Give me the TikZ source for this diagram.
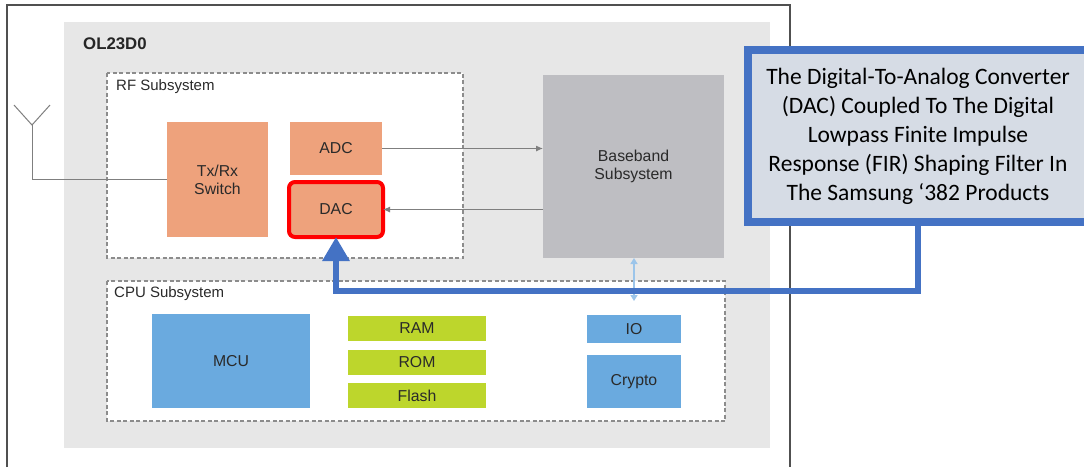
\documentclass[tikz,border=0pt]{standalone}
\usepackage{fontspec}
\setmainfont{Liberation Sans}
\newfontfamily\calloutfont{Carlito}
\usetikzlibrary{arrows.meta, positioning}

\definecolor{framegray}{HTML}{505050}
\definecolor{chipgray}{HTML}{E7E7E7}
\definecolor{dashgray}{HTML}{8C8C8C}
\definecolor{wiregray}{HTML}{7F7F7F}
\definecolor{textgray}{HTML}{2A2A2A}
\definecolor{rforange}{HTML}{EEA27C}
\definecolor{bbgray}{HTML}{BEBEC2}
\definecolor{cpublue}{HTML}{6AAADF}
\definecolor{memgreen}{HTML}{BDD62C}
\definecolor{linkblue}{HTML}{9CC5EA}
\definecolor{callblue}{HTML}{4472C4}
\definecolor{callfill}{HTML}{D6DCE5}

\begin{document}
\begin{tikzpicture}[
  x=1pt, y=-1pt,
  block/.style={inner sep=0pt, outer sep=0pt, align=center, text=textgray,
    font=\fontsize{15.8}{18}\selectfont},
  rfbox/.style={block, fill=rforange},
  cpubox/.style={block, fill=cpublue},
  membox/.style={block, fill=memgreen, minimum width=138pt, minimum height=25pt},
  subsys/.style={draw=dashgray, line width=1.2pt, dash pattern=on 4pt off 2.5pt, fill=white},
  label/.style={inner sep=0pt, anchor=west, text=textgray, font=\fontsize{15}{17}\selectfont},
  wire/.style={draw=wiregray, line width=1pt},
  arrow/.style={wire, -{Latex[length=7pt, width=6pt]}}
]
\useasboundingbox (0,0) rectangle (1084,467);

\draw[framegray, line width=2pt] (7,467) -- (7,5) -- (790,5) -- (790,467);
\fill[chipgray] (64,22) rectangle (770,448);
\node[label, font=\bfseries\fontsize{16.8}{19}\selectfont, text=black!85] (chip) at (83,44) {OL23D0};

\draw[subsys] (107,73) rectangle (463,258);
\node[label] (rflabel) at (116,87) {RF Subsystem};
\draw[subsys] (107,281) rectangle (725,421);
\node[label] (cpulabel) at (114,294) {CPU Subsystem};

\node[rfbox, minimum width=101pt, minimum height=115pt] (txrx) at (217.5,179.5) {Tx/Rx\\Switch};
\node[rfbox, minimum width=92pt, minimum height=53pt] (adc) at (336,148.5) {ADC};
\node[rfbox, below=7pt of adc, minimum width=94pt, minimum height=55pt,
  draw=red, line width=4pt, rounded corners=6pt] (dac) {DAC};
\node[block, fill=bbgray, minimum width=181pt, minimum height=183pt] (bb) at (633.5,166.5) {Baseband\\Subsystem};

\node[cpubox, minimum width=158pt, minimum height=94pt] (mcu) at (231,361) {MCU};
\node[membox] (ram) at (417,328.5) {RAM};
\node[membox, below=8.5pt of ram] (rom) {ROM};
\node[membox, below=8.5pt of rom] (flash) {Flash};
\node[cpubox, minimum width=94pt, minimum height=28pt] (io) at (634,329) {IO};
\node[cpubox, below=12pt of io, minimum width=94pt, minimum height=53pt] (crypto) {Crypto};

\coordinate (ant) at (32,125);
\draw[wire] (14,105) -- (ant) -- (50,105);
\draw[wire] (ant) |- (txrx.west);
\draw[arrow] (adc.east) -- (bb.west |- adc.east);
\draw[arrow] (bb.west |- dac.east) -- (dac.east);
\draw[linkblue, line width=1.5pt, {Triangle[length=6pt, width=7pt]}-{Triangle[length=6pt, width=7pt]},
  shorten >=14pt] (bb.south -| io.north) -- (io.north);

\node[draw=callblue, fill=callfill, line width=8pt, inner sep=0pt, outer sep=0pt,
  minimum width=340pt, minimum height=172pt, align=center,
  font=\calloutfont\fontsize{23.5}{29}\selectfont] (callout) at (918,136)
  {The Digital-To-Analog Converter\\(DAC) Coupled To The Digital\\Lowpass Finite Impulse\\Response (FIR) Shaping Filter In\\The Samsung ‘382 Products};

\coordinate (elbow) at (918,291);
\draw[callblue, line width=6pt, -{Triangle[length=24pt, width=26pt]}]
  (callout.south) -- (elbow) -| (dac.south);
\end{tikzpicture}
\end{document}
